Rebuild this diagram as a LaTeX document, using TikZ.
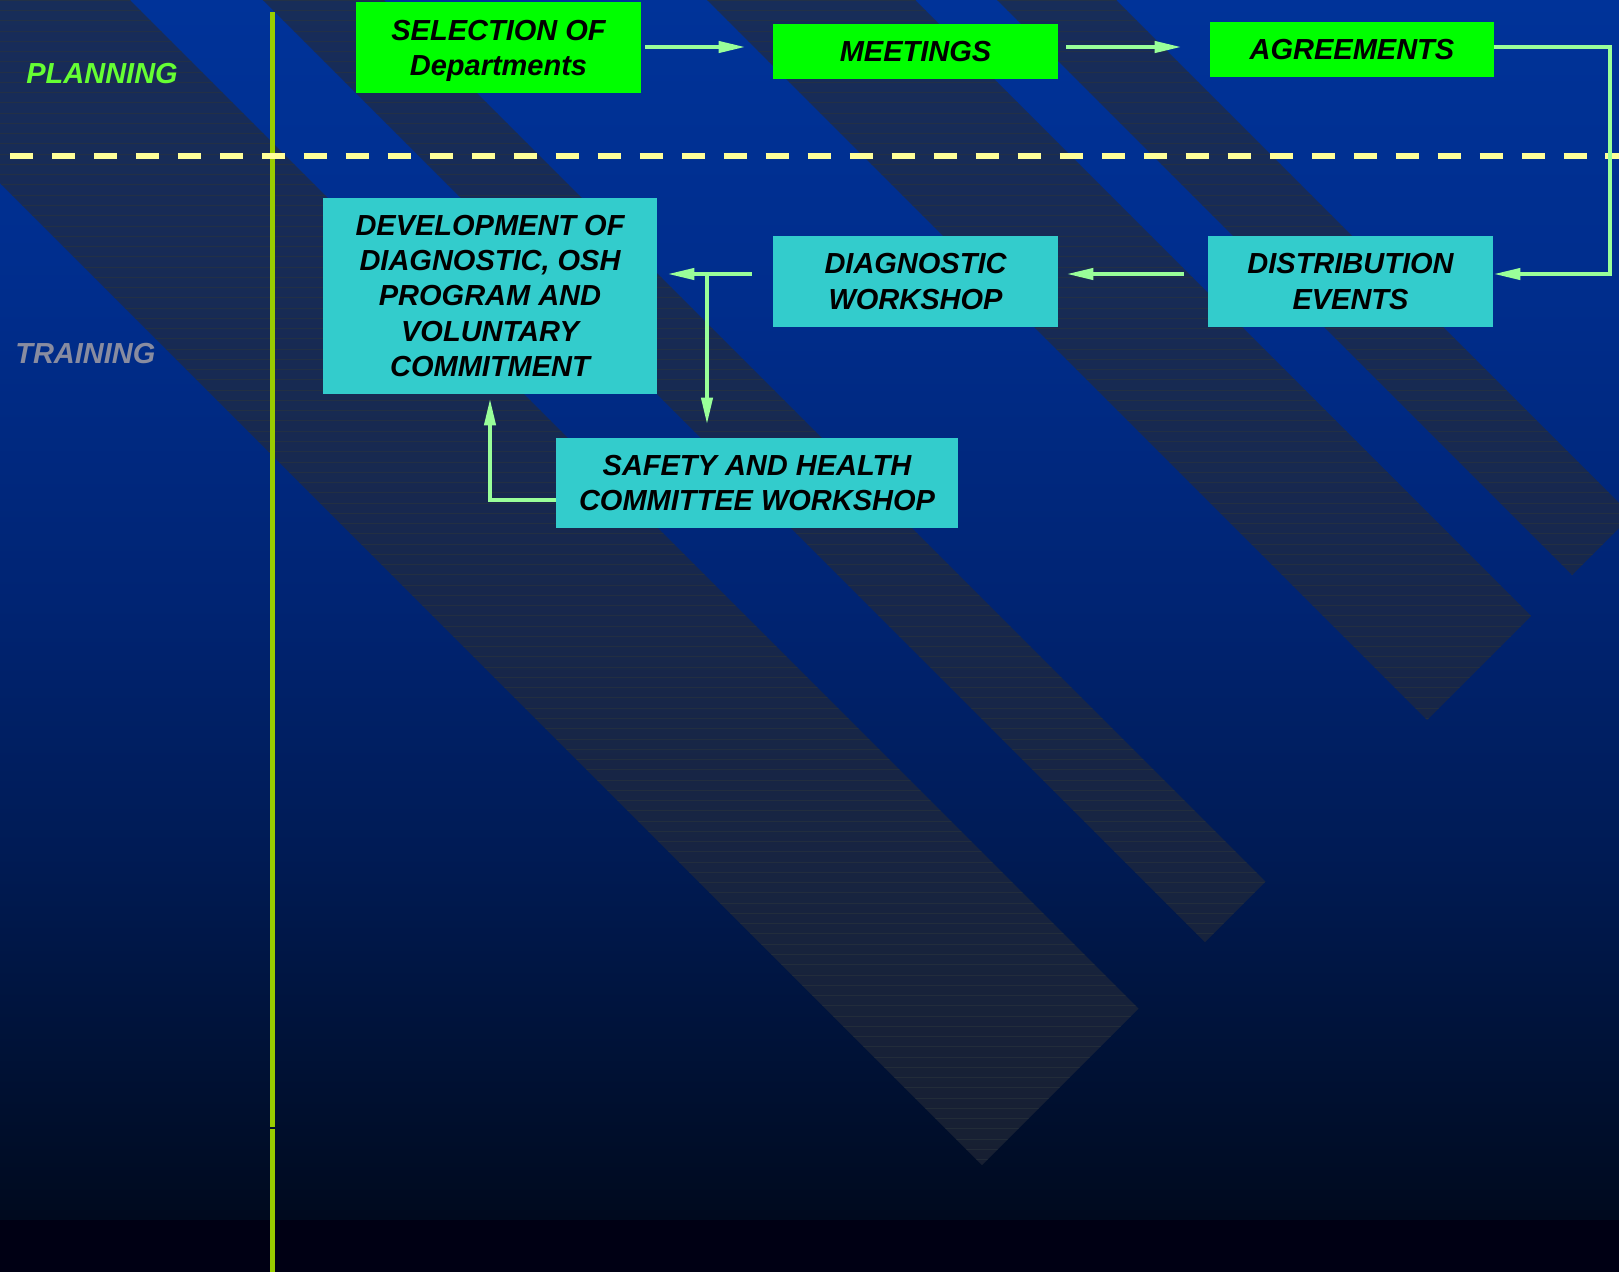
\documentclass[tikz,border=0pt]{standalone}
\usepackage{fontspec}
\setmainfont{Liberation Sans}
\usetikzlibrary{arrows.meta,calc}

% palette
\definecolor{bg0}{RGB}{0,51,153}
\definecolor{bg1}{RGB}{0,45,140}
\definecolor{bg2}{RGB}{0,36,115}
\definecolor{bg3}{RGB}{0,27,85}
\definecolor{bg4}{RGB}{0,18,55}
\definecolor{bg5}{RGB}{0,10,30}
\definecolor{floorblack}{RGB}{0,0,20}
\definecolor{bandgrey}{RGB}{36,42,56}
\definecolor{bandlinegrey}{RGB}{42,52,60}
\definecolor{boxgreen}{RGB}{0,255,0}
\definecolor{boxcyan}{RGB}{51,204,204}
\definecolor{arrowgreen}{RGB}{153,255,153}
\definecolor{dividercream}{RGB}{255,255,153}
\definecolor{rulegreen}{RGB}{153,204,0}
\definecolor{planninggreen}{RGB}{102,255,51}
\definecolor{traininggrey}{RGB}{137,140,160}

% background fade, darkest at the bottom
\pgfdeclareverticalshading{skyfade}{100bp}{%
  color(0bp)=(bg5); color(25bp)=(bg5); color(31.97bp)=(bg4);
  color(40.16bp)=(bg3); color(50.41bp)=(bg2); color(62.70bp)=(bg1);
  color(75bp)=(bg0); color(100bp)=(bg0)}

\newcommand\boxfont{\fontsize{16.5}{20}\selectfont\bfseries\itshape}

\begin{document}
\begin{tikzpicture}[x=0.02cm, y=-0.02cm,
  box/.style={inner sep=0pt, align=center, font=\boxfont, text=black},
  greenbox/.style={box, fill=boxgreen},
  cyanbox/.style={box, fill=boxcyan},
  arr/.style={draw=arrowgreen, line width=0.08cm,
    -{Triangle[length=0.54cm, width=0.22cm]}},
  bandshape/.style={fill=bandgrey, fill opacity=0.65},
  bandline/.style={draw=bandlinegrey, draw opacity=0.6, line width=0.02cm},
  rule/.style={draw=rulegreen, line width=0.1cm},
  divider/.style={draw=dividercream, line width=0.12cm,
    dash pattern=on 0.474cm off 0.366cm},
  lanelabel/.style={anchor=west, inner sep=0pt, font=\boxfont},
]
\useasboundingbox (0,0) rectangle (1619,1272);

% backdrop
\shade[shading=skyfade] (0,0) rectangle (1619,1220);
\fill[floorblack] (0,1220) rectangle (1619,1272);

% diagonal ribbons with fine horizontal ruling
\begin{scope}
  \clip (0,0) rectangle (1619,1272);
  \fill[bandshape]
    (120,-10) -- (1138.5,1008.5) -- (982,1165) -- (-10,173) -- (-10,-10) -- cycle
    (253,-10) -- (374,-10) -- (1265.5,881.5) -- (1205,942) -- cycle
    (697,-10) -- (905,-10) -- (1531,616) -- (1427,720) -- cycle
    (987,-10) -- (1106,-10) -- (1631.5,515.5) -- (1572,575) -- cycle;
  \clip
    (120,-10) -- (1138.5,1008.5) -- (982,1165) -- (-10,173) -- (-10,-10) -- cycle
    (253,-10) -- (374,-10) -- (1265.5,881.5) -- (1205,942) -- cycle
    (697,-10) -- (905,-10) -- (1531,616) -- (1427,720) -- cycle
    (987,-10) -- (1106,-10) -- (1631.5,515.5) -- (1572,575) -- cycle;
  \foreach \k in {0,...,124}
    \draw[bandline] (0,{0.3+10.26*\k}) -- (1619,{0.3+10.26*\k});
\end{scope}

% lane separators
\draw[rule] (272.5,12) -- (272.5,1127);
\draw[rule] (272.5,1129) -- (272.5,1272);
\draw[divider] (9.8,156) -- (1619,156);

% lane titles
\node[lanelabel, text=planninggreen] (planning) at (26,74) {PLANNING};
\node[lanelabel, text=traininggrey] (training) at (15,354) {TRAINING};

% process steps
\node[greenbox, minimum width=5.7cm, minimum height=1.82cm] (sel) at (498.5,47.5)
  {SELECTION OF\\\smash{Departments}};
\node[greenbox, minimum width=5.7cm, minimum height=1.1cm] (meet) at (915.5,51.5)
  {MEETINGS};
\node[greenbox, minimum width=5.68cm, minimum height=1.1cm] (agr) at (1352,49.5)
  {AGREEMENTS};
\node[cyanbox, minimum width=5.7cm, minimum height=1.82cm] (dist) at (1350.5,281.5)
  {DISTRIBUTION\\EVENTS};
\node[cyanbox, minimum width=5.7cm, minimum height=1.82cm] (diag) at (915.5,281.5)
  {DIAGNOSTIC\\WORKSHOP};
\node[cyanbox, minimum width=6.68cm, minimum height=3.92cm] (dev) at (490,296)
  {DEVELOPMENT OF\\DIAGNOSTIC, OSH\\PROGRAM AND\\VOLUNTARY\\COMMITMENT};
\node[cyanbox, minimum width=8.04cm, minimum height=1.8cm] (saf) at (757,483)
  {SAFETY AND HEALTH\\COMMITTEE WORKSHOP};

% connector rows and bends
\coordinate (toprow) at (0,47);
\coordinate (midrow) at (0,274);
\coordinate (saferow) at (0,500);
\coordinate (loopcorner) at (1610,47);
\coordinate (fork) at (707,274);

% connectors
\draw[arr, shorten <=0.08cm, shorten >=0.54cm] (sel.east |- toprow) -- (meet.west |- toprow);
\draw[arr, shorten <=0.16cm, shorten >=0.56cm] (meet.east |- toprow) -- (agr.west |- toprow);
\draw[arr] (agr.east |- toprow) -- (loopcorner) |- (dist.east |- midrow);
\draw[arr, shorten <=0.48cm, shorten >=0.16cm] (dist.west |- midrow) -- (diag.east |- midrow);
\draw[arr, shorten <=0.42cm, shorten >=0.2cm] (diag.west |- midrow) -- (dev.east |- midrow);
\draw[arr, shorten >=0.26cm] (fork) -- (fork |- saf.north);
\draw[arr, shorten >=0.08cm] (saf.west |- saferow) -| (dev.south);
\end{tikzpicture}
\end{document}
